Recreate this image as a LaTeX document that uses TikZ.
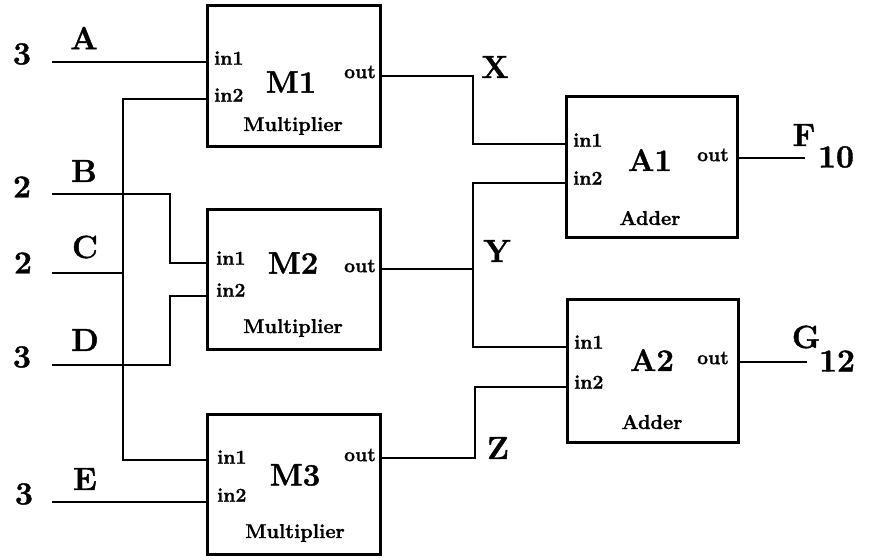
\documentclass[tikz,border=0pt]{standalone}
\usepackage{fontspec}
\setmainfont{Latin Modern Roman}[BoldFeatures={FakeBold=1.3}]
\begin{document}
\begin{tikzpicture}[x=1pt,y=-1pt,
  wire/.style={line width=2.8pt, line join=miter},
  unit/.style={draw, line width=3pt, anchor=north west, inner sep=0pt, outer sep=0pt,
               minimum width=173pt, minimum height=140pt},
  port/.style={font=\fontsize{19.5}{19.5}\selectfont\bfseries, inner sep=0pt},
  kind/.style={font=\fontsize{20}{20}\selectfont\bfseries, inner sep=0pt},
  uname/.style={font=\fontsize{31}{31}\selectfont\bfseries, inner sep=0pt},
  big/.style={font=\fontsize{32}{32}\selectfont\bfseries, inner sep=0pt}]
\useasboundingbox (0,0) rectangle (869,559);

% functional units
\node[unit] (M1) at (207,6) {};
\node[unit] (M2) at (207,209) {};
\node[unit] (M3) at (207,414) {};
\node[unit, minimum width=171pt] (A1) at (566,97) {};
\node[unit, minimum width=171pt, minimum height=143pt] (A2) at (567,299) {};

% unit labels
\node[uname] (M1n) at (291,82) {M1};
\node[uname] (M2n) at (293,263) {M2};
\node[uname] (M3n) at (295,475) {M3};
\node[uname] (A1n) at (650,160) {A1};
\node[uname] (A2n) at (652,360) {A2};

\node[kind] (M1k) at (293,126) {Multiplier};
\node[kind] (M2k) at (293,328) {Multiplier};
\node[kind] (M3k) at (295,533) {Multiplier};
\node[kind] (A1k) at (650,218) {Adder};
\node[kind] (A2k) at (652,422) {Adder};

% port labels
\node[port, anchor=west] (M1p1) at (214,58) {in1};
\node[port, anchor=west] (M1p2) at (214,95) {in2};
\node[port] (M1po) at (360,72) {out};
\node[port, anchor=west] (M2p1) at (216,258) {in1};
\node[port, anchor=west] (M2p2) at (216,290) {in2};
\node[port] (M2po) at (360,266) {out};
\node[port, anchor=west] (M3p1) at (217,457) {in1};
\node[port, anchor=west] (M3p2) at (217,495) {in2};
\node[port] (M3po) at (360,455) {out};
\node[port, anchor=west] (A1p1) at (573,140) {in1};
\node[port, anchor=west] (A1p2) at (573,178) {in2};
\node[port] (A1po) at (713,155) {out};
\node[port, anchor=west] (A2p1) at (574,342) {in1};
\node[port, anchor=west] (A2p2) at (574,382) {in2};
\node[port] (A2po) at (713,358) {out};

% port points on the unit borders
\coordinate (M1i1) at (207,62);
\coordinate (M1i2) at (207,99);
\coordinate (M1o)  at (380,76);
\coordinate (M2i1) at (207,263);
\coordinate (M2i2) at (207,296);
\coordinate (M2o)  at (380,269);
\coordinate (M3i1) at (207,460);
\coordinate (M3i2) at (207,502);
\coordinate (M3o)  at (380,458);
\coordinate (A1i1) at (566,144);
\coordinate (A1i2) at (566,183);
\coordinate (A1o)  at (737,158);
\coordinate (A2i1) at (567,347);
\coordinate (A2i2) at (567,387);
\coordinate (A2o)  at (738,362);

% free ends of the input and output wires
\coordinate (Ain) at (52,62);
\coordinate (Bin) at (52,194);
\coordinate (Cin) at (52,273);
\coordinate (Din) at (52,365);
\coordinate (Ein) at (52,502);
\coordinate (Fout) at (805,158);
\coordinate (Gout) at (807,362);
\coordinate (Cbus) at (123,273);

% input wires
\draw[wire] (Ain) -- (M1i1);
\draw[wire] (M1i2) -| (Cbus) |- (M3i1);
\draw[wire] (Cin) -- (Cbus);
\draw[wire] (Bin) -- (170,194) |- (M2i1);
\draw[wire] (Din) -- (170,365) |- (M2i2);
\draw[wire] (Ein) -- (M3i2);

% internal wires
\draw[wire] (M1o) -- (473,76) |- (A1i1);
\draw[wire] (M2o) -- (473,269);
\draw[wire] (A1i2) -- (473,183) |- (A2i1);
\draw[wire] (M3o) -- (475,458) |- (A2i2);

% output wires
\draw[wire] (A1o) -- (Fout);
\draw[wire] (A2o) -- (Gout);

% values and wire names
\node[big] (vA) at (22,54) {3};
\node[big] (nA) at (84,38) {A};
\node[big] (vB) at (22,187) {2};
\node[big] (nB) at (84,171) {B};
\node[big] (vC) at (23,263) {2};
\node[big] (nC) at (85,247) {C};
\node[big] (vD) at (22,357) {3};
\node[big] (nD) at (85,340) {D};
\node[big] (vE) at (24,494) {3};
\node[big] (nE) at (85,479) {E};
\node[big] (nX) at (495,67) {X};
\node[big] (nY) at (497,251) {Y};
\node[big] (nZ) at (498,448) {Z};
\node[big] (nF) at (804,135) {F};
\node[big] (vF) at (836,157) {10};
\node[big] (nG) at (806,337) {G};
\node[big] (vG) at (837,361) {12};
\end{tikzpicture}
\end{document}
